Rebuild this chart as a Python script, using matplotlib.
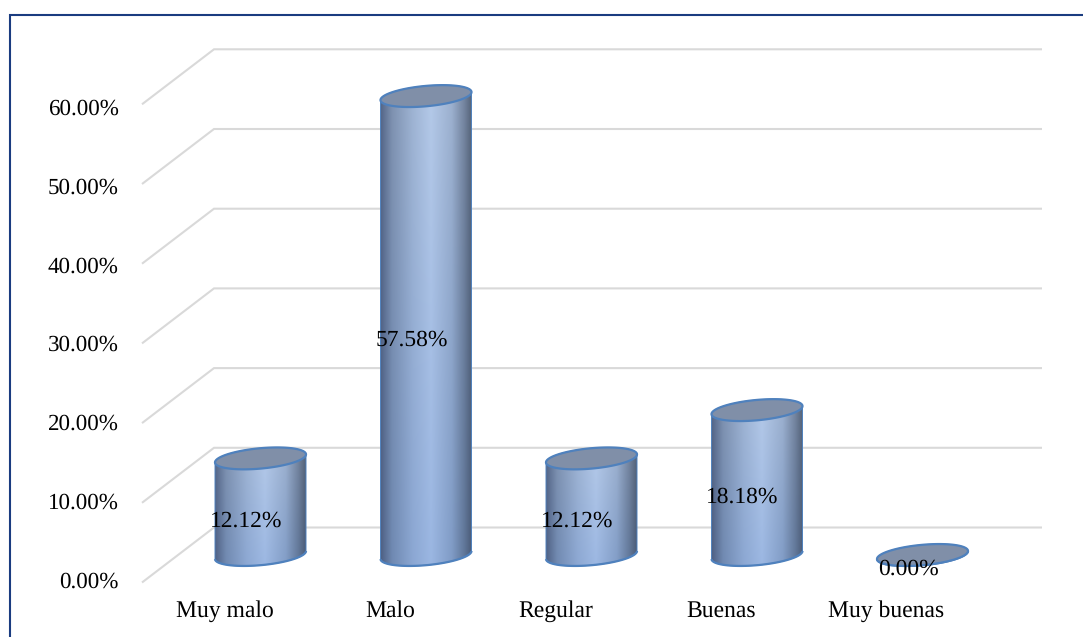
import numpy as np
import matplotlib
matplotlib.use("Agg")
import matplotlib.pyplot as plt
from matplotlib.colors import to_rgb
from matplotlib.lines import Line2D
from matplotlib.patches import Polygon

categories = ["Muy malo", "Malo", "Regular", "Buenas", "Muy buenas"]
values = [12.12, 57.58, 12.12, 18.18, 0.00]
value_labels = ["12.12%", "57.58%", "12.12%", "18.18%", "0.00%"]
y_ticks = [0, 10, 20, 30, 40, 50, 60]
y_tick_labels = ["0.00%", "10.00%", "20.00%", "30.00%", "40.00%", "50.00%", "60.00%"]

W, H = 1083, 637
PX_PER_CAT = 165.5
PX_PER_PCT = 7.97
ORIGIN_X, ORIGIN_Y = 260.5, 555.0
TICK_FONT_SIZE = 16.6
VALUE_FONT_SIZE = 16.9
CATEGORY_FONT_SIZE = 17.0

plt.rcParams["font.family"] = ["Liberation Serif", "DejaVu Serif"]
plt.rcParams["text.hinting"] = "no_hinting"
fig = plt.figure(figsize=(W / 100, H / 100), dpi=100, facecolor="white")
ax = fig.add_axes([0, 0, 1, 1])
ax.axis("off")


def set_limits():
    ax.set_xlim(-ORIGIN_X / PX_PER_CAT, (W - ORIGIN_X) / PX_PER_CAT)
    ax.set_ylim((ORIGIN_Y - H) / PX_PER_PCT, ORIGIN_Y / PX_PER_PCT)


set_limits()

# Floor and back wall: each gridline runs from the front edge to the back wall.
FRONT_X, BACK_X, RIGHT_X = -118.5, -46.5, 781.5   # pixel offsets from the first bar
FRONT_DY, BACK_DY = -27.5, 27.5                   # pixel offsets of the depth axis
for tick in y_ticks:
    xs = np.array([FRONT_X, BACK_X, RIGHT_X]) / PX_PER_CAT
    ys = tick + np.array([FRONT_DY, BACK_DY, BACK_DY]) / PX_PER_PCT
    ax.plot(xs, ys, color="#d9d9d9", lw=1.5, solid_joinstyle="miter",
            solid_capstyle="butt", zorder=1)

# Cylinder shading: dark sides with a soft highlight, fading bluer towards the base.
stops = [0.0, 0.12, 0.35, 0.55, 0.78, 0.92, 1.0]
top_cols = ["#56688a", "#7f92b0", "#9fb4d3", "#b4c9e8", "#9db1cf", "#74849e", "#566479"]
low_cols = ["#4f6185", "#6f89b2", "#8ba7d3", "#9ab6e2", "#7f9bc6", "#5f7699", "#4a5b78"]
xg = np.linspace(0, 1, 128)
yg = np.linspace(0, 1, 64)
top_rgb = np.array([np.interp(xg, stops, [to_rgb(c)[i] for c in top_cols]) for i in range(3)]).T
low_rgb = np.array([np.interp(xg, stops, [to_rgb(c)[i] for c in low_cols]) for i in range(3)]).T
shade = top_rgb[None, :, :] * (1 - yg[:, None, None]) + low_rgb[None, :, :] * yg[:, None, None]

# Ellipse outline in pixel radii; the shear lifts the right side of the cap.
RX, RY, SHEAR = 45.5, 10.2, 4.0
theta = np.linspace(0, 2 * np.pi, 200)
ex = RX * np.cos(theta) / PX_PER_CAT
ey = (RY * np.sin(theta) + SHEAR * np.cos(theta)) / PX_PER_PCT
EDGE = "#4f81bd"

for i, v in enumerate(values):
    lower = theta[(theta >= np.pi)]
    lx = i + RX * np.cos(lower) / PX_PER_CAT
    ly = (RY * np.sin(lower) + SHEAR * np.cos(lower)) / PX_PER_PCT
    # The sides carry only a hairline; the base and cap get the full outline.
    body_x = np.r_[lx, (i + ex)[:100]]
    body_y = np.r_[ly, (v + ey)[:100]]
    body = Polygon(np.c_[body_x, body_y], closed=True, facecolor="none",
                   edgecolor=EDGE, lw=0.7, zorder=3, joinstyle="round")
    ax.add_patch(body)
    ax.plot(lx, ly, color=EDGE, lw=1.6, zorder=3, solid_capstyle="butt")
    if v > 0:
        half = RX / PX_PER_CAT
        pad = 12 / PX_PER_PCT
        im = ax.imshow(shade, extent=(i - half, i + half, -2 * pad, v + pad),
                       origin="upper", aspect="auto", interpolation="bilinear", zorder=2)
        im.set_clip_path(Polygon(np.c_[body_x, body_y], closed=True, transform=ax.transData))
    ax.fill(i + ex, v + ey, facecolor="#808fa8", edgecolor=EDGE, lw=1.6, zorder=4)

    ax.annotate(value_labels[i], (i, v / 2), xytext=(-14.5, -19.7), textcoords="offset pixels",
                ha="center", va="baseline", fontsize=VALUE_FONT_SIZE, color="black", zorder=6)

set_limits()

for i, name in enumerate(categories):
    ax.annotate(name, (i, 0), xytext=(-36, -62), textcoords="offset pixels",
                ha="center", va="baseline", fontsize=CATEGORY_FONT_SIZE, color="black")

# The axis labels sit on a slightly tighter spacing than the gridlines.
for tick, label in zip(y_ticks, y_tick_labels):
    ax.annotate(label, (0, tick), xytext=(-142, -33 - 0.075 * tick), textcoords="offset pixels",
                ha="right", va="baseline", fontsize=TICK_FONT_SIZE, color="black")

# Chart frame, open on the right and along the bottom.
frame = "#1a3c80"
fig.add_artist(Line2D([9.5 / W, 9.5 / W, 1], [0, 1 - 15 / H, 1 - 15 / H],
                      color=frame, lw=1.5, solid_joinstyle="miter"))

fig.savefig("out.png", dpi=100)
